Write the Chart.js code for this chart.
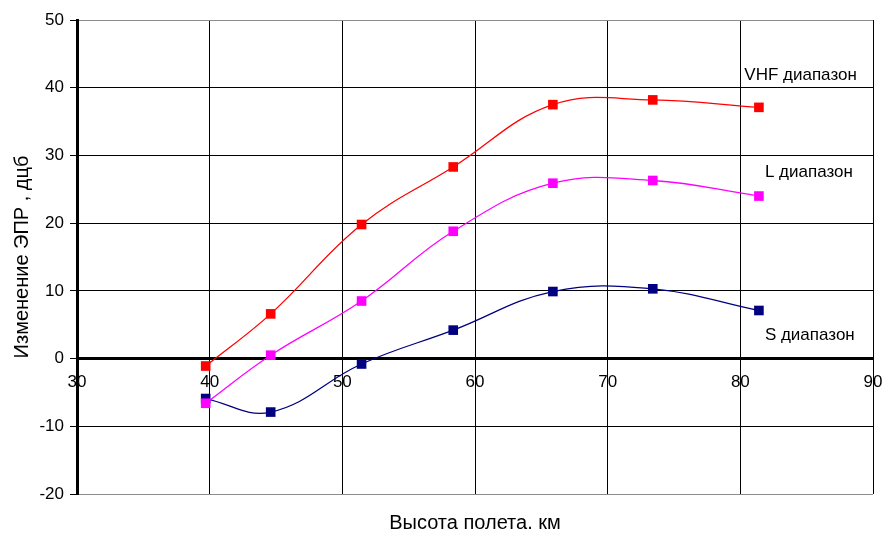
<!DOCTYPE html>
<html>
<head>
<meta charset="utf-8">
<script src="https://cdn.jsdelivr.net/npm/chart.js@4"></script>
<style>
  html, body { margin: 0; padding: 0; background: #fff; }
  #wrap { width: 882px; height: 533px; }
</style>
</head>
<body>
<div id="wrap"><canvas id="chart" width="882" height="533"></canvas></div>
<script>
// flight altitude, km
const heights = [39.7, 44.6, 51.45, 58.36, 65.87, 73.4, 81.4];
// RCS change, dB
const vhfValues = [-1.1, 6.6, 19.8, 28.3, 37.5, 38.2, 37.1];
const lValues = [-6.6, 0.5, 8.5, 18.8, 25.9, 26.3, 24.0];
const sValues = [-5.9, -7.9, -0.8, 4.2, 9.9, 10.3, 7.1];

const seriesNames = ["VHF диапазон", "L диапазон", "S диапазон"];
const xTitle = "Высота полета. км";
const yTitle = "Изменение ЭПР , дцб";

const FONT = "'Liberation Sans', Arial, sans-serif";

const toPoints = (vals) => vals.map((v, i) => ({ x: heights[i], y: v }));

// where each series label sits (in axis units)
const labelAnchors = [
  { x: 80.3, y: 41.9 },
  { x: 81.85, y: 27.5 },
  { x: 81.85, y: 3.5 },
];

const textPlugin = {
  id: "texts",
  afterDraw(chart) {
    const { ctx, chartArea, scales } = chart;
    ctx.save();
    ctx.fillStyle = "#000";
    ctx.font = "17px " + FONT;
    ctx.textBaseline = "middle";
    ctx.textAlign = "left";
    seriesNames.forEach((name, i) => {
      const a = labelAnchors[i];
      ctx.fillText(name, scales.x.getPixelForValue(a.x), scales.y.getPixelForValue(a.y));
    });
    // axis titles
    ctx.font = "20px " + FONT;
    ctx.textAlign = "center";
    ctx.fillText(xTitle, (chartArea.left + chartArea.right) / 2, 523);
    ctx.translate(22, (chartArea.top + chartArea.bottom) / 2);
    ctx.rotate(-Math.PI / 2);
    ctx.fillText(yTitle, 0, 0);
    ctx.restore();
  },
};

const mkSet = (label, vals, color) => ({
  label: label,
  data: toPoints(vals),
  showLine: true,
  borderColor: color,
  backgroundColor: color,
  borderWidth: 1.3,
  tension: 0.4,
  pointStyle: "rect",
  pointRadius: 6.8,
  pointHoverRadius: 6.8,
  pointBorderWidth: 0,
});

new Chart(document.getElementById("chart"), {
  type: "scatter",
  data: {
    datasets: [
      mkSet(seriesNames[0], vhfValues, "#ff0000"),
      mkSet(seriesNames[1], lValues, "#ff00ff"),
      mkSet(seriesNames[2], sValues, "#000080"),
    ],
  },
  options: {
    responsive: false,
    animation: false,
    events: [],
    layout: {
      padding: { left: 0, right: 9, top: 20, bottom: 39 },
    },
    plugins: {
      legend: { display: false },
      tooltip: { enabled: false },
    },
    scales: {
      x: {
        type: "linear",
        min: 30,
        max: 90,
        position: { y: 0 },
        afterFit: (s) => {
          s.paddingLeft = 0;
          s.paddingRight = 0;
        },
        ticks: {
          stepSize: 10,
          color: "#000",
          font: { family: FONT, size: 17 },
          padding: 8,
          maxRotation: 0,
        },
        grid: {
          color: "#000",
          lineWidth: 1,
          tickColor: "#000",
          tickLength: 6,
        },
        border: { color: "#000", width: 3 },
      },
      y: {
        type: "linear",
        min: -20,
        max: 50,
        position: "left",
        afterFit: (s) => {
          s.width = 77;
          s.paddingTop = 0;
          s.paddingBottom = 0;
        },
        ticks: {
          stepSize: 10,
          color: "#000",
          font: { family: FONT, size: 17 },
          padding: 6,
        },
        grid: {
          color: (c) =>
            c.tick && (c.tick.value === 50 || c.tick.value === -20) ? "#8c8c8c" : "#000",
          lineWidth: 1,
          tickColor: "#000",
          tickLength: 7,
        },
        border: { color: "#000", width: 3 },
      },
    },
  },
  plugins: [textPlugin],
});
</script>
</body>
</html>
